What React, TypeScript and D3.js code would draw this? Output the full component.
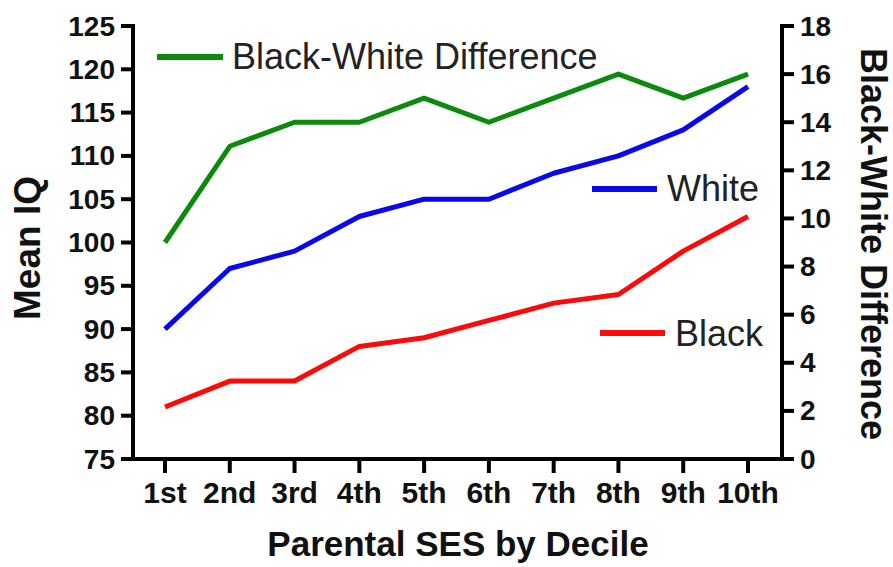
import React from "react";
import * as d3 from "d3";

const categories = ["1st", "2nd", "3rd", "4th", "5th", "6th", "7th", "8th", "9th", "10th"];
const whiteIQ = [90, 97, 99, 103, 105, 105, 108, 110, 113, 118];
const blackIQ = [81, 84, 84, 88, 89, 91, 93, 94, 99, 103];
const bwDiff = [9, 13, 14, 14, 15, 14, 15, 16, 15, 16];
const leftTicks = [75, 80, 85, 90, 95, 100, 105, 110, 115, 120, 125];
const rightTicks = [0, 2, 4, 6, 8, 10, 12, 14, 16, 18];

const W = 893;
const H = 567;
const axL = 133;
const axR = 782;
const top = 26;
const bottom = 459;
const FONT = "'Liberation Sans', Arial, Helvetica, sans-serif";

const GREEN = "#0c8a0c";
const BLUE = "#0808e8";
const RED = "#fb0a0a";

export default function App() {
  const x = d3.scalePoint<string>().domain(categories).range([165, 748]);
  const yL = d3.scaleLinear().domain([75, 125]).range([bottom, top]);
  const yR = d3.scaleLinear().domain([0, 18]).range([bottom, top]);

  const lineL = d3
    .line<number>()
    .x((_, i) => x(categories[i]) as number)
    .y((d) => yL(d));
  const lineR = d3
    .line<number>()
    .x((_, i) => x(categories[i]) as number)
    .y((d) => yR(d));

  return (
    <svg
      width={W}
      height={H}
      style={{ position: "absolute", left: 0, top: 0, background: "#fff" }}
      fontFamily={FONT}
    >
      {/* series */}
      <path d={lineR(bwDiff) || ""} fill="none" stroke={GREEN} strokeWidth={5} strokeLinejoin="round" />
      <path d={lineL(whiteIQ) || ""} fill="none" stroke={BLUE} strokeWidth={5} strokeLinejoin="round" />
      <path d={lineL(blackIQ) || ""} fill="none" stroke={RED} strokeWidth={5} strokeLinejoin="round" />

      {/* axes */}
      <g stroke="#000" strokeWidth={4} fill="none">
        <line x1={axL} y1={top - 2} x2={axL} y2={bottom + 2} />
        <line x1={axR} y1={top - 2} x2={axR} y2={bottom + 2} />
        <line x1={axL - 2} y1={bottom} x2={axR + 2} y2={bottom} />
        {leftTicks.map((t) => (
          <line key={"lt" + t} x1={axL - 12} x2={axL} y1={yL(t)} y2={yL(t)} />
        ))}
        {rightTicks.map((t) => (
          <line key={"rt" + t} x1={axR} x2={axR + 12} y1={yR(t)} y2={yR(t)} />
        ))}
        {categories.map((c) => (
          <line key={"xt" + c} x1={x(c) as number} x2={x(c) as number} y1={bottom} y2={bottom + 14} />
        ))}
      </g>

      {/* tick labels */}
      <g fontWeight="bold" fontSize={28} fill="#111">
        {leftTicks.map((t) => (
          <text key={"ll" + t} x={axL - 18} y={yL(t)} textAnchor="end" dominantBaseline="central">
            {t}
          </text>
        ))}
        {rightTicks.map((t) => (
          <text key={"rl" + t} x={axR + 18} y={yR(t)} textAnchor="start" dominantBaseline="central">
            {t}
          </text>
        ))}
      </g>
      <g fontWeight="bold" fontSize={30} fill="#111">
        {categories.map((c) => (
          <text key={"xl" + c} x={x(c) as number} y={503} textAnchor="middle">
            {c}
          </text>
        ))}
      </g>

      {/* axis titles */}
      <text x={458} y={556} textAnchor="middle" fontWeight="bold" fontSize={35} fill="#111">
        Parental SES by Decile
      </text>
      <text
        transform={`translate(27,248) rotate(-90)`}
        textAnchor="middle"
        dominantBaseline="central"
        fontWeight="bold"
        fontSize={37}
        fill="#111"
      >
        Mean IQ
      </text>
      <text
        transform={`translate(873,244) rotate(90)`}
        textAnchor="middle"
        dominantBaseline="central"
        fontWeight="bold"
        fontSize={36}
        fill="#111"
      >
        Black-White Difference
      </text>

      {/* legends */}
      <g fontSize={36} fill="#222">
        <line x1={157} x2={223} y1={57} y2={57} stroke={GREEN} strokeWidth={6} />
        <text x={232} y={56} dominantBaseline="central">Black-White Difference</text>
        <line x1={592} x2={657} y1={189} y2={189} stroke={BLUE} strokeWidth={6} />
        <text x={667} y={188} dominantBaseline="central">White</text>
        <line x1={600} x2={665} y1={333} y2={333} stroke={RED} strokeWidth={6} />
        <text x={675} y={333} dominantBaseline="central">Black</text>
      </g>
    </svg>
  );
}
